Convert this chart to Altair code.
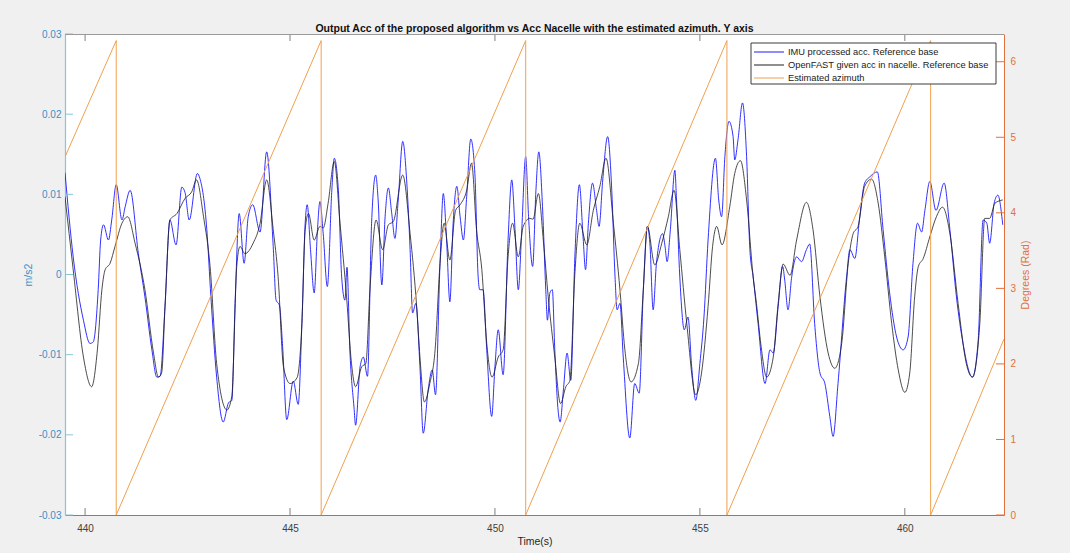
import altair as alt
import pandas as pd

# ---------------- data ----------------
blue_t = [439.51, 439.71, 439.96, 440.12, 440.20, 440.32, 440.38, 440.45, 440.57, 440.65,
          440.76, 440.90, 440.98, 441.10, 441.30, 441.46, 441.63, 441.75, 441.83, 441.95,
          442.07, 442.22, 442.36, 442.44, 442.54, 442.74, 442.80, 442.97, 443.07, 443.21,
          443.37, 443.50, 443.58, 443.66, 443.76, 443.88, 443.98, 444.09, 444.27, 444.43,
          444.59, 444.66, 444.74, 444.82, 444.92, 445.08, 445.20, 445.29, 445.37, 445.42,
          445.50, 445.59, 445.67, 445.73, 445.81, 445.91, 446.02, 446.08, 446.18, 446.26,
          446.34, 446.39, 446.46, 446.56, 446.60, 446.71, 446.79, 446.89, 446.99, 447.09,
          447.15, 447.24, 447.32, 447.40, 447.48, 447.56, 447.64, 447.75, 447.85, 447.93,
          447.99, 448.07, 448.17, 448.25, 448.37, 448.47, 448.55, 448.66, 448.74, 448.82,
          448.90, 448.98, 449.07, 449.15, 449.23, 449.31, 449.41, 449.51, 449.59, 449.63,
          449.71, 449.80, 449.92, 450.00, 450.08, 450.20, 450.32, 450.41, 450.49, 450.57,
          450.65, 450.75, 450.82, 450.92, 451.00, 451.07, 451.16, 451.24, 451.28, 451.34,
          451.40, 451.46, 451.54, 451.59, 451.67, 451.76, 451.85, 451.95, 452.06, 452.15,
          452.21, 452.28, 452.38, 452.48, 452.54, 452.63, 452.75, 452.85, 452.93, 452.98,
          453.05, 453.13, 453.29, 453.41, 453.52, 453.62, 453.72, 453.78, 453.86, 453.94,
          454.09, 454.15, 454.20, 454.28, 454.39, 454.43, 454.51, 454.62, 454.71, 454.80,
          454.90, 455.00, 455.10, 455.20, 455.38, 455.46, 455.53, 455.61, 455.71, 455.81,
          455.85, 455.93, 456.04, 456.14, 456.22, 456.30, 456.42, 456.59, 456.71, 456.79,
          456.91, 457.02, 457.07, 457.15, 457.24, 457.36, 457.48, 457.60, 457.68, 457.80,
          457.93, 458.05, 458.17, 458.25, 458.37, 458.58, 458.66, 458.78, 458.90, 459.02,
          459.15, 459.33, 459.47, 459.63, 459.80, 459.96, 460.08, 460.20, 460.31, 460.41,
          460.49, 460.61, 460.76, 460.96, 461.10, 461.26, 461.42, 461.65, 461.79, 461.91,
          462.00, 462.07, 462.18, 462.27, 462.39]
blue_v = [0.0127, 0.0022, -0.0057, -0.0086, -0.0084, -0.0019, 0.0043, 0.0062, 0.0043, 0.0068,
          0.0112, 0.0068, 0.0085, 0.0105, 0.0026, -0.0028, -0.0094, -0.0128, -0.0127, -0.0040,
          0.0068, 0.0037, 0.0109, 0.0102, 0.0068, 0.0126, 0.0120, 0.0056, -0.0028, -0.0128,
          -0.0184, -0.0160, -0.0157, -0.0036, 0.0076, 0.0014, 0.0072, 0.0087, 0.0053, 0.0153,
          0.0035, -0.0032, -0.0038, -0.0090, -0.0181, -0.0133, -0.0162, -0.0061, 0.0064, 0.0087,
          0.0031, -0.0023, 0.0056, 0.0091, 0.0051, -0.0015, 0.0105, 0.0145, 0.0105, -0.0003,
          -0.0032, 0.0009, -0.0094, -0.0165, -0.0188, -0.0115, -0.0103, -0.0127, 0.0064, 0.0124,
          0.0093, -0.0013, 0.0072, 0.0108, 0.0077, 0.0045, 0.0093, 0.0166, 0.0114, 0.0031,
          -0.0048, -0.0036, -0.0115, -0.0198, -0.0144, -0.0119, -0.0150, 0.0014, 0.0101, 0.0043,
          -0.0034, 0.0064, 0.0110, 0.0072, 0.0043, 0.0097, 0.0169, 0.0126, -0.0003, -0.0019,
          -0.0019, -0.0094, -0.0177, -0.0115, -0.0069, -0.0125, 0.0043, 0.0118, 0.0056, -0.0019,
          0.0051, 0.0147, 0.0072, 0.0010, 0.0105, 0.0153, 0.0085, -0.0019, -0.0057, -0.0023,
          -0.0019, -0.0094, -0.0169, -0.0184, -0.0144, -0.0098, -0.0132, 0.0022, 0.0112, 0.0047,
          0.0006, 0.0064, 0.0114, 0.0080, 0.0060, 0.0118, 0.0172, 0.0105, -0.0003, -0.0044,
          -0.0036, -0.0103, -0.0204, -0.0136, -0.0148, -0.0019, 0.0060, 0.0039, -0.0044, 0.0014,
          0.0051, 0.0035, 0.0016, 0.0056, 0.0130, 0.0093, -0.0003, -0.0069, -0.0053, -0.0115,
          -0.0157, -0.0111, -0.0053, 0.0043, 0.0145, 0.0093, 0.0072, 0.0147, 0.0191, 0.0172,
          0.0143, 0.0168, 0.0214, 0.0147, 0.0031, -0.0003, -0.0061, -0.0136, -0.0094, -0.0098,
          -0.0040, 0.0010, -0.0007, -0.0044, -0.0003, 0.0022, 0.0016, 0.0031, 0.0038, -0.0061,
          -0.0123, -0.0136, -0.0177, -0.0202, -0.0136, -0.0003, 0.0031, 0.0020, 0.0072, 0.0114,
          0.0122, 0.0128, 0.0056, -0.0023, -0.0078, -0.0094, -0.0078, 0.0014, 0.0064, 0.0053,
          0.0080, 0.0116, 0.0080, 0.0114, 0.0056, -0.0028, -0.0086, -0.0128, -0.0082, 0.0068,
          0.0064, 0.0039, 0.0089, 0.0099, 0.0062]

black_t = [439.51, 439.71, 439.96, 440.16, 440.30, 440.41, 440.49, 440.61, 440.73, 440.90,
           441.04, 441.22, 441.46, 441.67, 441.79, 441.87, 441.95, 442.07, 442.24, 442.44,
           442.60, 442.72, 442.89, 443.05, 443.21, 443.46, 443.58, 443.70, 443.78, 443.90,
           444.10, 444.27, 444.43, 444.59, 444.71, 444.84, 445.00, 445.17, 445.29, 445.37,
           445.45, 445.59, 445.73, 445.81, 445.93, 446.08, 446.22, 446.38, 446.50, 446.60,
           446.75, 446.85, 446.95, 447.10, 447.26, 447.40, 447.52, 447.75, 447.93, 448.09,
           448.17, 448.28, 448.41, 448.54, 448.66, 448.76, 448.90, 449.04, 449.15, 449.31,
           449.43, 449.55, 449.68, 449.80, 449.93, 450.08, 450.20, 450.32, 450.43, 450.57,
           450.69, 450.85, 450.93, 451.06, 451.18, 451.30, 451.46, 451.60, 451.73, 451.83,
           451.95, 452.07, 452.24, 452.40, 452.56, 452.71, 452.89, 453.05, 453.17, 453.32,
           453.50, 453.62, 453.72, 453.90, 454.07, 454.23, 454.37, 454.51, 454.68, 454.90,
           455.04, 455.20, 455.31, 455.41, 455.54, 455.73, 455.85, 455.99, 456.14, 456.30,
           456.38, 456.49, 456.63, 456.79, 456.91, 457.03, 457.20, 457.36, 457.60, 457.76,
           457.93, 458.13, 458.29, 458.46, 458.62, 458.74, 458.86, 459.02, 459.19, 459.35,
           459.51, 459.68, 459.84, 460.00, 460.12, 460.24, 460.33, 460.45, 460.61, 460.77,
           460.92, 461.10, 461.30, 461.50, 461.65, 461.83, 461.95, 462.07, 462.20, 462.39]
black_v = [0.0097, 0.0006, -0.0103, -0.0140, -0.0094, -0.0019, 0.0006, 0.0014, 0.0035, 0.0064,
           0.0072, 0.0039, -0.0019, -0.0098, -0.0128, -0.0122, -0.0040, 0.0068, 0.0076, 0.0095,
           0.0103, 0.0118, 0.0072, 0.0010, -0.0111, -0.0169, -0.0152, 0.0010, 0.0035, 0.0026,
           0.0039, 0.0064, 0.0118, 0.0056, -0.0003, -0.0115, -0.0136, -0.0129, -0.0061, 0.0056,
           0.0076, 0.0043, 0.0060, 0.0058, 0.0089, 0.0141, 0.0064, -0.0028, -0.0111, -0.0140,
           -0.0115, -0.0111, -0.0019, 0.0068, 0.0031, 0.0062, 0.0066, 0.0124, 0.0051, -0.0040,
           -0.0103, -0.0159, -0.0136, -0.0094, 0.0014, 0.0064, 0.0018, 0.0080, 0.0087, 0.0105,
           0.0139, 0.0056, 0.0006, -0.0086, -0.0128, -0.0103, -0.0094, 0.0022, 0.0064, 0.0022,
           0.0060, 0.0070, 0.0069, 0.0101, 0.0043, -0.0028, -0.0103, -0.0161, -0.0140, -0.0132,
           0.0001, 0.0064, 0.0037, 0.0080, 0.0110, 0.0145, 0.0064, -0.0019, -0.0094, -0.0134,
           -0.0111, -0.0019, 0.0060, 0.0012, 0.0039, 0.0072, 0.0105, 0.0031, -0.0061, -0.0150,
           -0.0123, -0.0040, 0.0035, 0.0060, 0.0037, 0.0085, 0.0126, 0.0142, 0.0093, -0.0003,
           -0.0036, -0.0088, -0.0128, -0.0103, -0.0036, 0.0013, -0.0001, 0.0043, 0.0090, 0.0056,
           -0.0028, -0.0098, -0.0117, -0.0086, 0.0014, 0.0051, 0.0060, 0.0110, 0.0119, 0.0089,
           0.0022, -0.0061, -0.0119, -0.0147, -0.0123, -0.0028, 0.0010, 0.0020, 0.0047, 0.0072,
           0.0084, 0.0051, -0.0036, -0.0111, -0.0128, -0.0061, 0.0070, 0.0070, 0.0089, 0.0093]

az_t = [439.51, 440.76, 440.76, 445.76, 445.76, 450.75, 450.75, 455.66, 455.66,
        460.63, 460.63, 462.42]
az_v = [4.74, 6.28, 0.0, 6.28, 0.0, 6.28, 0.0, 6.28, 0.0, 6.28, 0.0, 2.33]

x_ticks = [440, 445, 450, 455, 460]
left_ticks = [-0.03, -0.02, -0.01, 0.0, 0.01, 0.02, 0.03]
right_ticks = [0, 1, 2, 3, 4, 5, 6]

names = ["IMU processed acc. Reference base",
         "OpenFAST given acc in nacelle. Reference base",
         "Estimated azimuth"]
colors = ["#1a1aff", "#1e1e1e", "#f0a04e"]

title_text = "Output Acc of the proposed algorithm vs Acc Nacelle with the estimated azimuth. Y axis"

# ---------------- layout / style ----------------
W, H = 939, 481
FONT = "Liberation Sans"
LEFT_C = "#3a8ec6"
LEFT_LINE = "#86c6d9"
RIGHT_C = "#e0703c"
GRAY = "#808080"

X_DOMAIN = [439.51, 462.42]
LEFT_DOMAIN = [-0.03, 0.03]
RIGHT_DOMAIN = [0, 6.367]

df_blue = pd.DataFrame({"t": blue_t, "v": blue_v, "series": names[0], "i": range(len(blue_t))})
df_black = pd.DataFrame({"t": black_t, "v": black_v, "series": names[1], "i": range(len(black_t))})
df_az = pd.DataFrame({"t": az_t, "v": az_v, "series": names[2], "i": range(len(az_t))})
df_xt = pd.DataFrame({"t": x_ticks})
df_lt = pd.DataFrame({"v": left_ticks})
df_rt = pd.DataFrame({"v": right_ticks})

xscale = alt.Scale(domain=X_DOMAIN, nice=False, zero=False)
lscale = alt.Scale(domain=LEFT_DOMAIN, nice=False, zero=False)
rscale = alt.Scale(domain=RIGHT_DOMAIN, nice=False, zero=False)
cscale = alt.Scale(domain=names, range=colors)

x_axis = alt.Axis(values=x_ticks, ticks=False, grid=False, title="Time(s)",
                  domainColor=GRAY, domainWidth=1, labelColor="#404040", labelFont=FONT,
                  labelFontSize=10, labelPadding=8, titleFont=FONT, titleFontSize=10.5,
                  titleFontWeight="normal", titleColor="#262626", titlePadding=3)
l_axis = alt.Axis(orient="left", values=left_ticks, ticks=False, grid=False, title="m/s2",
                  labelExpr="datum.value == 0 ? '0' : (datum.value < 0 ? '-' + format(-datum.value, '.2f') : format(datum.value, '.2f'))",
                  domainColor=LEFT_LINE, domainWidth=1.2, labelColor=LEFT_C, labelFont=FONT,
                  labelFontSize=10, labelPadding=4, titleFont=FONT, titleFontSize=10.5,
                  titleFontWeight="normal", titleColor=LEFT_C, titlePadding=5)
r_axis = alt.Axis(orient="right", values=right_ticks, ticks=False, grid=False, title="Degrees (Rad)",
                  format="d", domainColor=RIGHT_C, domainWidth=1, labelColor=RIGHT_C, labelFont=FONT,
                  labelFontSize=10, labelPadding=6, titleFont=FONT, titleFontSize=10.5,
                  titleFontWeight="normal", titleColor=RIGHT_C, titlePadding=5, titleAngle=270,
                  titleBaseline="top")

X = alt.X("t:Q", scale=xscale, axis=x_axis)
color = alt.Color("series:N", scale=cscale, legend=None)

blue_line = alt.Chart(df_blue).mark_line(strokeWidth=0.9, clip=True, interpolate="monotone").encode(
    x=X, y=alt.Y("v:Q", scale=lscale, axis=l_axis), color=color, order="i:Q")
black_line = alt.Chart(df_black).mark_line(strokeWidth=0.8, clip=True, interpolate="monotone").encode(
    x=X, y=alt.Y("v:Q", scale=lscale, axis=l_axis), color=color, order="i:Q")
left_ticks_m = alt.Chart(df_lt).mark_rule(color=LEFT_LINE, strokeWidth=1).encode(
    y=alt.Y("v:Q", scale=lscale, axis=l_axis), x=alt.value(0), x2=alt.value(8))
x_ticks_bottom = alt.Chart(df_xt).mark_rule(color=GRAY, strokeWidth=1).encode(
    x=X, y=alt.value(H), y2=alt.value(H - 7))
x_ticks_top = alt.Chart(df_xt).mark_rule(color=GRAY, strokeWidth=1).encode(
    x=X, y=alt.value(0), y2=alt.value(7))
top_border = alt.Chart(df_xt).mark_rule(color="#9a9a9a", strokeWidth=1).encode(
    x=alt.value(0), x2=alt.value(W), y=alt.value(0.5))

left_group = alt.layer(blue_line, black_line, left_ticks_m, x_ticks_bottom, x_ticks_top, top_border)

az_line = alt.Chart(df_az).mark_line(strokeWidth=1, clip=True).encode(
    x=X, y=alt.Y("v:Q", scale=rscale, axis=r_axis), color=color, order="i:Q")
right_ticks_m = alt.Chart(df_rt).mark_rule(color=RIGHT_C, strokeWidth=1).encode(
    y=alt.Y("v:Q", scale=rscale, axis=r_axis), x=alt.value(W), x2=alt.value(W - 8))
right_group = alt.layer(az_line, right_ticks_m)

# ---------------- legend (box with samples and labels) ----------------
LX0, LX1, LY0, LY1 = 686, 931, 9, 50
row_y = [18, 31, 44]
df_box = pd.DataFrame({"k": [0]})
legend_layers = [alt.Chart(df_box).mark_rect(fill="white", stroke="#3c3c3c", strokeWidth=1).encode(
    x=alt.value(LX0), x2=alt.value(LX1), y=alt.value(LY0), y2=alt.value(LY1))]
for k in range(3):
    dfl = pd.DataFrame({"name": [names[k]]})
    legend_layers.append(alt.Chart(dfl).mark_rule(color=colors[k], strokeWidth=1).encode(
        x=alt.value(689), x2=alt.value(719), y=alt.value(row_y[k])))
    legend_layers.append(alt.Chart(dfl).mark_text(align="left", baseline="middle", font=FONT,
                                                  fontSize=9.3, color="#1a1a1a").encode(
        x=alt.value(723), y=alt.value(row_y[k]), text="name:N"))

chart = alt.layer(left_group, right_group, *legend_layers).resolve_scale(
    y="independent"
).properties(
    width=W, height=H,
    autosize=alt.AutoSizeParams(type="none"),
    padding={"left": 65, "top": 34, "right": 66, "bottom": 38},
    background="#f0f0f0",
    title=alt.TitleParams(text=title_text, font=FONT, fontSize=10.5, fontWeight="bold",
                          color="#111111", anchor="middle", offset=4, dy=9),
).configure_view(fill="white", stroke=None)

chart.save("out.html", embed_options={"renderer": "svg", "actions": False})
